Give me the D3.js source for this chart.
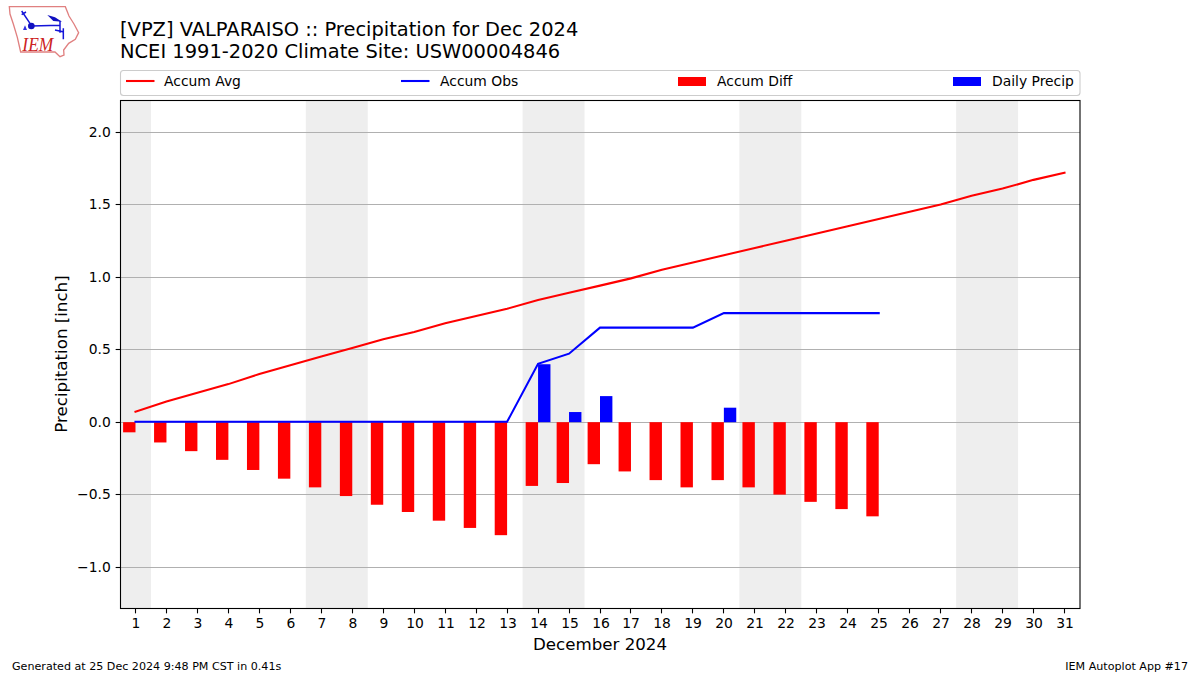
<!DOCTYPE html>
<html><head><meta charset="utf-8">
<script src="https://cdn.jsdelivr.net/npm/d3@7"></script>
<style>html,body{margin:0;padding:0;background:#fff}svg{display:block}text{font-family:"DejaVu Sans";fill:#000}</style>
</head><body><svg id="c" width="1200" height="675"></svg>
<script>
const days = d3.range(1, 32);
const accumAvg = [0.07,0.14,0.20,0.26,0.33,0.39,0.45,0.51,0.57,0.62,0.68,0.73,0.78,0.84,0.89,0.94,0.99,1.05,1.10,1.15,1.20,1.25,1.30,1.35,1.40,1.45,1.50,1.56,1.61,1.67,1.72];
const accumObs = [0,0,0,0,0,0,0,0,0,0,0,0,0,0.40,0.47,0.65,0.65,0.65,0.65,0.75,0.75,0.75,0.75,0.75,0.75];
const accumDiff = [-0.07,-0.14,-0.20,-0.26,-0.33,-0.39,-0.45,-0.51,-0.57,-0.62,-0.68,-0.73,-0.78,-0.44,-0.42,-0.29,-0.34,-0.40,-0.45,-0.40,-0.45,-0.50,-0.55,-0.60,-0.65];
const dailyPrecip = [0,0,0,0,0,0,0,0,0,0,0,0,0,0.40,0.07,0.18,0,0,0,0.10,0,0,0,0,0];
const weekends = [[0.5,1.5],[6.5,8.5],[13.5,15.5],[20.5,22.5],[27.5,29.5]];
const yTicks = [-1,-0.5,0,0.5,1,1.5,2];
const legendItems = ["Accum Avg","Accum Obs","Accum Diff","Daily Precip"];
const titleLines = ["[VPZ] VALPARAISO :: Precipitation for Dec 2024","NCEI 1991-2020 Climate Site: USW00004846"];

const L=120,R=1080,T=100.5,B=608.5;
const x=d3.scaleLinear().domain([0.5,31.5]).range([L,R]);
const y=d3.scaleLinear().domain([-1.2828,2.2207]).range([608,T]);
const snapY=d=>Math.floor(y(d))+0.5;
const svg=d3.select("#c");

// logo
const logo=svg.append("g").attr("transform","scale(0.3333)");
logo.append("path").attr("d","M28,20 L196,20 L207,48 L222,72 L236,98 L226,118 L206,130 L191,150 L192,165 L180,170 L165,156 L62,156 L52,112 L40,72 L30,42 Z")
  .attr("fill","#fff").attr("stroke","#e08080").attr("stroke-width",4);
const lb=logo.append("g").attr("stroke","#1414d8").attr("fill","none").attr("stroke-width",4.5);
lb.append("path").attr("d","M94,78 L180,76 M180,62 L180,98 M165,90 L192,96 M190,85 L190,118 M65,33 L90,70 M65,44 L78,36");
logo.append("circle").attr("cx",94).attr("cy",78).attr("r",10).attr("fill","#1010c0");
logo.append("path").attr("d","M142,45 L165,52 L186,65 L160,63 Z").attr("fill","#1010c0");
logo.append("path").attr("d","M75,76 L81,90 L69,90 Z").attr("fill","#3030e0");
logo.append("text").attr("x",67).attr("y",154).attr("font-size",56).attr("textLength",93).attr("lengthAdjust","spacingAndGlyphs").style("font-family","Liberation Serif").style("font-style","italic").style("fill","#cc2222").text("IEM");

// titles
titleLines.forEach((t,i)=>svg.append("text").attr("x",120).attr("y",35.5+i*22).attr("font-size",19.44).text(t));

// weekend bands
svg.append("g").selectAll("rect").data(weekends).join("rect")
  .attr("x",d=>x(d[0])).attr("width",d=>x(d[1])-x(d[0])).attr("y",T).attr("height",B-T).attr("fill","#eeeeee");

// grid
svg.append("g").selectAll("line").data(yTicks).join("line")
  .attr("x1",L).attr("x2",R).attr("y1",snapY).attr("y2",snapY)
  .attr("stroke","#b0b0b0").attr("stroke-width",1.1);

// bars
const bw=0.4;
svg.append("g").selectAll("rect").data(accumDiff).join("rect")
  .attr("x",(d,i)=>x(days[i]-bw)).attr("width",x(bw)-x(0))
  .attr("y",y(0)).attr("height",d=>y(d)-y(0)).attr("fill","#ff0000");
svg.append("g").selectAll("rect").data(dailyPrecip).join("rect")
  .attr("x",(d,i)=>x(days[i])).attr("width",x(bw)-x(0))
  .attr("y",d=>y(d)).attr("height",d=>y(0)-y(d)).attr("fill","#0000ff");

// lines
const line=d3.line().x((d,i)=>x(days[i])).y(d=>y(d));
const lines=svg.append("g").attr("transform","translate(0,-0.4)");
lines.append("path").datum(accumAvg).attr("d",line).attr("fill","none").attr("stroke","#ff0000").attr("stroke-width",2.08).attr("stroke-linecap","square");
lines.append("path").datum(accumObs).attr("d",line).attr("fill","none").attr("stroke","#0000ff").attr("stroke-width",2.08).attr("stroke-linecap","square");

// frame
svg.append("rect").attr("x",120.5).attr("y",T).attr("width",R-120.5).attr("height",B-T).attr("fill","none").attr("stroke","#000").attr("stroke-width",1.1);

// axes
const xa=svg.append("g").attr("transform",`translate(0,${B})`).call(d3.axisBottom(x).tickValues(days).tickFormat(d3.format("d")).tickSize(4.86).tickPadding(5.2).offset(0));
xa.select(".domain").remove();
xa.selectAll("line").attr("stroke-width",1.1).attr("stroke","#000");
xa.selectAll(".tick").attr("transform",d=>`translate(${Math.floor(x(d))+0.5},0)`);
xa.selectAll("text").attr("x",0.5).attr("font-size",13.89).style("font-family","DejaVu Sans");
const ya=svg.append("g").attr("transform","translate(120.5,0)").call(d3.axisLeft(y).tickValues(yTicks).tickFormat(d=>d3.format(".1f")(d).replace("-","\u2212")).tickSize(4.86).tickPadding(4.86).offset(0));
ya.select(".domain").remove();
ya.selectAll("line").attr("stroke-width",1.1).attr("stroke","#000");
ya.selectAll(".tick").attr("transform",d=>`translate(0,${snapY(d)})`);
ya.selectAll("text").attr("font-size",13.89).style("font-family","DejaVu Sans");

svg.append("text").attr("x",600).attr("y",649.5).attr("text-anchor","middle").attr("font-size",16.67).text("December 2024");
svg.append("text").attr("transform","translate(67,354) rotate(-90)").attr("text-anchor","middle").attr("font-size",16.67).text("Precipitation [inch]");

// legend
svg.append("rect").attr("x",120.5).attr("y",70.5).attr("width",959.5).attr("height",25).attr("rx",3).attr("fill","#fff").attr("stroke","#cccccc").attr("stroke-width",1.1);
const lx=[126,401,678,953];
const lg=svg.append("g").selectAll("g").data(legendItems).join("g").attr("transform",(d,i)=>`translate(${lx[i]},0)`);
lg.each(function(d,i){
  const g=d3.select(this);
  if(i<2) g.append("line").attr("x1",0).attr("x2",28.5).attr("y1",81).attr("y2",81).attr("stroke",i==0?"#ff0000":"#0000ff").attr("stroke-width",2.08);
  else g.append("rect").attr("x",0).attr("y",77).attr("width",28).attr("height",9).attr("fill",i==2?"#ff0000":"#0000ff");
  g.append("text").attr("x",[38,39,39,39][i]).attr("y",86).attr("font-size",13.89).text(d);
});

// footer
svg.append("text").attr("x",12).attr("y",670).attr("font-size",11.11).text("Generated at 25 Dec 2024 9:48 PM CST in 0.41s");
svg.append("text").attr("x",1188).attr("y",670).attr("text-anchor","end").attr("font-size",11.11).text("IEM Autoplot App #17");
</script></body></html>
